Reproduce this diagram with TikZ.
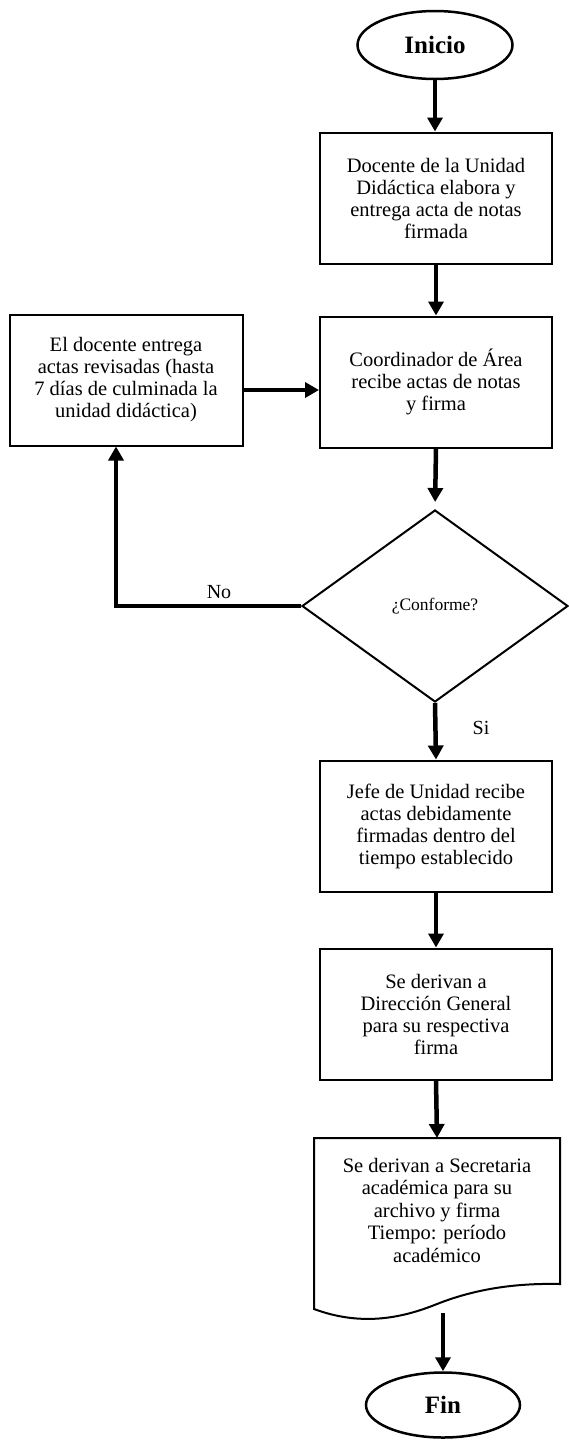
\documentclass[tikz,border=0pt]{standalone}
\usepackage{fontspec}
\setmainfont{Liberation Serif}
\usetikzlibrary{shapes.geometric,arrows.meta}
\begin{document}
\begin{tikzpicture}[x=1pt,y=-1pt,
  procbox/.style={draw,line width=2pt,rectangle,minimum width=232pt,minimum height=131pt,
    align=center,inner sep=2pt,font=\fontsize{20.5}{22}\selectfont},
  term/.style={draw,line width=2.5pt,ellipse,minimum width=155pt,minimum height=68pt,
    inner sep=0pt,font=\fontsize{25}{28}\selectfont\bfseries},
  arr/.style={line width=4.5pt,-{Triangle[width=15pt,length=14pt]}},
  lbl/.style={font=\fontsize{20}{22}\selectfont,inner sep=0pt}
]
\useasboundingbox (0,0) rectangle (569,1441);
\fill[white] (0,0) rectangle (569,1441);

\node[term] (inicio) at (435,45) {Inicio};
\node[procbox] (b1) at (436,198) {Docente de la Unidad\\Didáctica elabora y\\entrega acta de notas\\firmada};
\node[procbox] (b2) at (436,382) {Coordinador de Área\\recibe actas de notas\\y firma};
\node[procbox,minimum width=233pt] (left) at (126,380) {El docente entrega\\actas revisadas (hasta\\7 días de culminada la\\unidad didáctica)};
\node[draw,diamond,line width=2pt,minimum width=266pt,minimum height=192pt,inner sep=0pt,
  font=\fontsize{17.5}{20}\selectfont] (dia) at (435,606) {¿Conforme?};
\node[procbox] (b3) at (436,826) {Jefe de Unidad recibe\\actas debidamente\\firmadas dentro del\\tiempo establecido};
\node[procbox] (b4) at (436,1014) {Se derivan a\\Dirección General\\para su respectiva\\firma};
\node[align=center,inner sep=0pt,font=\fontsize{20.5}{22.5}\selectfont,minimum width=246pt] (doc) at (437,1210)
  {Se derivan a Secretaria\\académica para su\\archivo y firma\\Tiempo: período\\académico};
\coordinate (doctop) at (437,1138);
\coordinate (docbot) at (443,1313);
\draw[line width=2pt,line join=miter] (314,1309) -- (314,1138) -- (560,1138) -- (560,1284)
  .. controls (515,1283) and (475,1289) .. (437,1304)
  .. controls (400,1319) and (360,1326) .. (314,1309) -- cycle;
\node[term,minimum width=154pt,minimum height=65pt] (fin) at (443,1405) {Fin};

\node[lbl] (no) at (219,592) {No};
\node[lbl] (si) at (481,728) {Si};

\draw[arr] (inicio.south) -- (inicio.south |- b1.north);
\draw[arr] (b1.south) -- (b2.north);
\draw[arr] ([yshift=-10pt]left.east) -- ([yshift=-8pt]b2.west);
\draw[arr,shorten >=7pt] (b2.south) -- (dia.north);
\draw[line width=3.5pt,-{Triangle[width=15pt,length=14pt]}] (dia.west) -| ([xshift=-10pt]left.south);
\draw[arr] (dia.south) -- (b3.north);
\draw[arr] (b3.south) -- (b4.north);
\draw[arr] (b4.south) -- (doctop);
\draw[arr] (docbot) -- (fin.north);
\end{tikzpicture}
\end{document}
